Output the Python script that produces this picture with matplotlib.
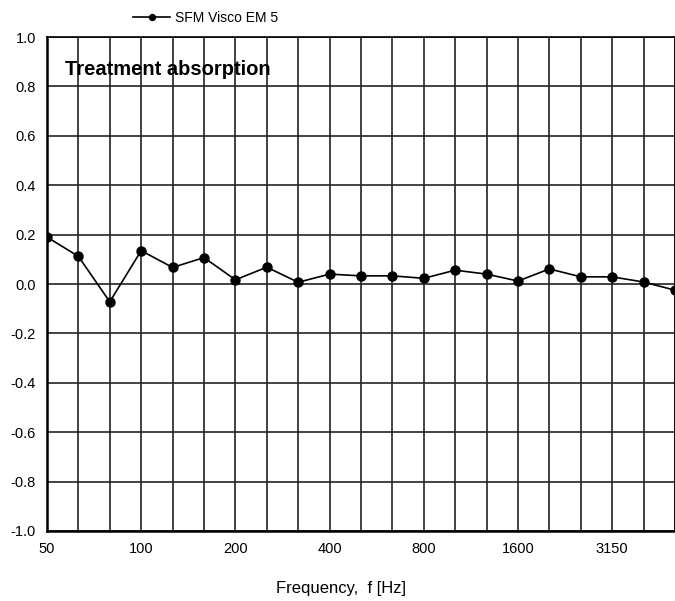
import matplotlib
matplotlib.use("Agg")
import matplotlib.pyplot as plt

plt.rcParams['font.family'] = ['Liberation Sans', 'DejaVu Sans']

freqs = ["50", "63", "80", "100", "125", "160", "200", "250", "315", "400", "500",
         "630", "800", "1000", "1250", "1600", "2000", "2500", "3150", "4000", "5000"]
absorption = [0.19, 0.112, -0.072, 0.135, 0.067, 0.107, 0.017, 0.068, 0.007, 0.04, 0.033,
              0.033, 0.023, 0.056, 0.04, 0.012, 0.061, 0.029, 0.029, 0.008, -0.025]
series_name = "SFM Visco EM 5"
yticks = [-1.0, -0.8, -0.6, -0.4, -0.2, 0.0, 0.2, 0.4, 0.6, 0.8, 1.0]

fig = plt.figure(figsize=(6.75, 6.01), dpi=100)
ax = fig.add_axes([0.0696, 0.1165, 0.9304, 0.8219])

x = list(range(len(freqs)))
line, = ax.plot(x, absorption, color='black', lw=1.2, marker='o', ms=6.5, label=series_name, zorder=3)

ax.set_xlim(0, len(freqs) - 1)
ax.set_ylim(-1.0, 1.0)
ax.set_xticks(x, minor=True)
ax.set_xticks(x[::3])
ax.set_xticklabels(freqs[::3], fontsize=10.5)
ax.set_yticks(yticks)
ax.set_yticklabels([f"{v:.1f}" for v in yticks], fontsize=10.5)
ax.tick_params(axis='both', which='both', length=0, pad=8)
ax.grid(True, which='both', axis='x', color='#222222', lw=1.2)
ax.grid(True, which='major', axis='y', color='#222222', lw=1.2)
for s in ['left', 'bottom']:
    ax.spines[s].set_linewidth(1.8)
for s in ['top', 'right']:
    ax.spines[s].set_linewidth(1.2)

fig.text(0.505, 1 - 588 / 601, "Frequency,  f [Hz]", fontsize=12, ha='center', va='center')
ax.text(0.028, 0.935, "Treatment absorption", transform=ax.transAxes, fontsize=14.5,
        fontweight='bold', va='center', ha='left')

fig.legend(handles=[line], loc='center', bbox_to_anchor=(0.305, 0.97), frameon=False,
           fontsize=10, handlelength=2.6, handletextpad=0.4, markerscale=0.65)

fig.savefig("out.png", dpi=100)
